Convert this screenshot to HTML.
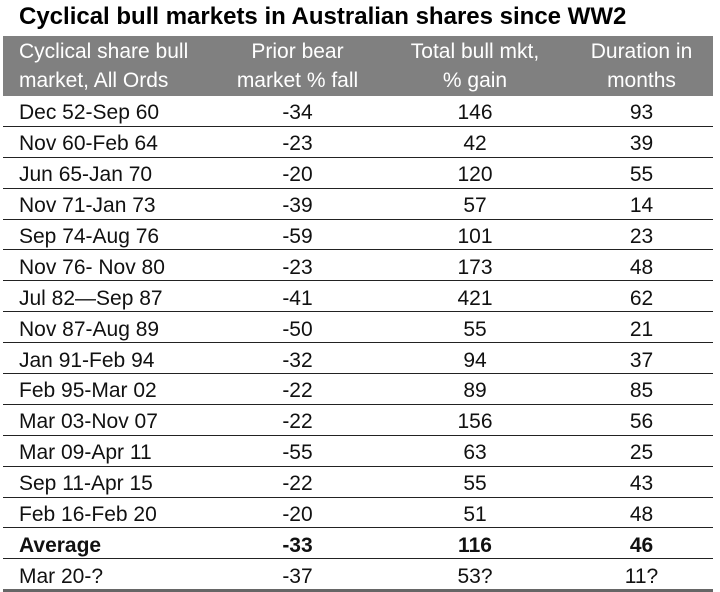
<!DOCTYPE html>
<html><head><style>
body{margin:0;width:720px;height:591px;background:#fff;font-family:"Liberation Sans",Arial,sans-serif;position:relative;overflow:hidden}
.t{position:absolute;left:19px;top:3px;font-size:24px;font-weight:bold;color:#000;white-space:nowrap}
table{position:absolute;left:3px;top:36px;width:710px;border-collapse:collapse;font-size:21px;color:#111}
th{background:#808080;color:#fff;font-weight:normal;height:60px;line-height:29px;padding:0;vertical-align:middle}
td{height:24.9px;border-bottom:1px solid #222;padding:5px 0 0 0;text-align:center}
td:first-child{text-align:left;padding-left:16px}
th:first-child{text-align:left;padding-left:16px}
tr.b td{font-weight:bold}
tr:last-child td{border-bottom:3px solid #666}
</style></head><body>
<div class="t">Cyclical bull markets in Australian shares since WW2</div>
<table>
<colgroup><col style="width:212px"><col style="width:165px"><col style="width:190px"><col style="width:143px"></colgroup>
<tr><th>Cyclical share bull<br>market, All Ords</th><th>Prior bear<br>market % fall</th><th>Total bull mkt,<br>% gain</th><th>Duration in<br>months</th></tr>
<tr><td>Dec 52-Sep 60</td><td>-34</td><td>146</td><td>93</td></tr>
<tr><td>Nov 60-Feb 64</td><td>-23</td><td>42</td><td>39</td></tr>
<tr><td>Jun 65-Jan 70</td><td>-20</td><td>120</td><td>55</td></tr>
<tr><td>Nov 71-Jan 73</td><td>-39</td><td>57</td><td>14</td></tr>
<tr><td>Sep 74-Aug 76</td><td>-59</td><td>101</td><td>23</td></tr>
<tr><td>Nov 76- Nov 80</td><td>-23</td><td>173</td><td>48</td></tr>
<tr><td>Jul 82—Sep 87</td><td>-41</td><td>421</td><td>62</td></tr>
<tr><td>Nov 87-Aug 89</td><td>-50</td><td>55</td><td>21</td></tr>
<tr><td>Jan 91-Feb 94</td><td>-32</td><td>94</td><td>37</td></tr>
<tr><td>Feb 95-Mar 02</td><td>-22</td><td>89</td><td>85</td></tr>
<tr><td>Mar 03-Nov 07</td><td>-22</td><td>156</td><td>56</td></tr>
<tr><td>Mar 09-Apr 11</td><td>-55</td><td>63</td><td>25</td></tr>
<tr><td>Sep 11-Apr 15</td><td>-22</td><td>55</td><td>43</td></tr>
<tr><td>Feb 16-Feb 20</td><td>-20</td><td>51</td><td>48</td></tr>
<tr class="b"><td>Average</td><td>-33</td><td>116</td><td>46</td></tr>
<tr><td>Mar 20-?</td><td>-37</td><td>53?</td><td>11?</td></tr>
</table>
</body></html>
